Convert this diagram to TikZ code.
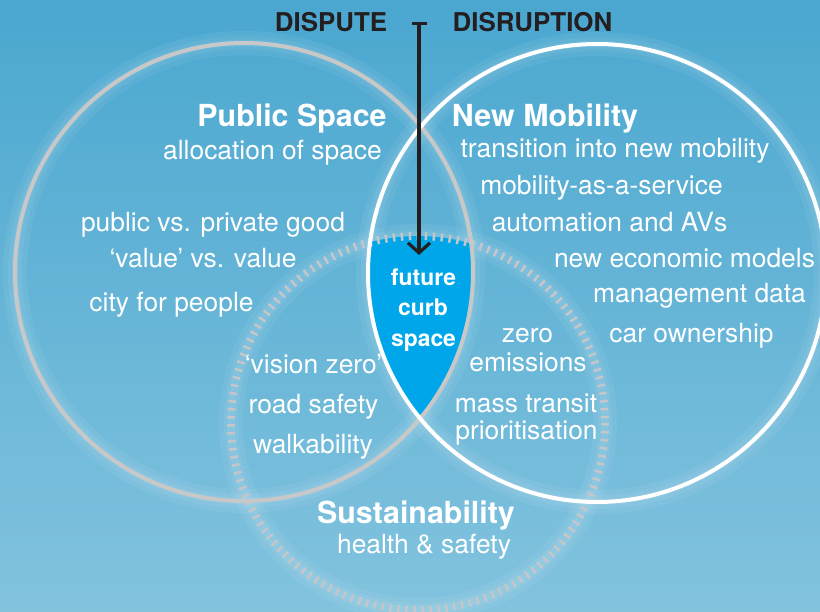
\documentclass[tikz,border=0pt]{standalone}
\usepackage{fontspec}
\setmainfont{TeX Gyre Heros}
\usetikzlibrary{arrows.meta}
\definecolor{skytop}{RGB}{74,167,208}
\definecolor{skybot}{RGB}{130,195,222}
\definecolor{curbblue}{RGB}{0,166,234}
\definecolor{ringgrey}{RGB}{200,200,200}
\definecolor{tickgrey}{RGB}{196,198,201}
\definecolor{darkink}{RGB}{35,31,32}
\tikzset{
  head/.style={anchor=base, text=white, font=\bfseries\fontsize{30.5}{33}\selectfont},
  item/.style={anchor=base, text=white, font=\fontsize{26.5}{30}\selectfont},
  toplabel/.style={anchor=base, text=darkink, font=\bfseries\fontsize{26}{30}\selectfont},
  curbtext/.style={anchor=base, text=white, font=\bfseries\fontsize{23}{26}\selectfont},
  halo/.style={white, opacity=0.06, line width=#1},
}
\begin{document}
\begin{tikzpicture}[x=1bp, y=-1bp]
      \shade [top color=skytop, bottom color=skybot] (0,0) rectangle (820,612);
      \useasboundingbox (0,0) rectangle (820,612);
      % circle centres
      \coordinate (ps) at (244,272);
      \coordinate (nm) at (597,273);
      \coordinate (su) at (418,423);
      % soft glow round the rings
      \foreach \w in {24bp,14bp,7bp} {
        \draw [halo=\w] (su) circle (187);
        \draw [halo=\w] (ps) circle (229);
        \draw [halo=\w] (nm) circle (229);
      }
      % the shared part
      \begin{scope}
        \clip (ps) circle (229);
        \clip (nm) circle (229);
        \fill [curbblue] (su) circle (187);
      \end{scope}
      \draw [tickgrey, line width=8bp, dash pattern=on 2.5bp off 5.5bp] (su) circle (187);
      \draw [ringgrey, line width=4bp] (ps) circle (229);
      \draw [white, line width=4bp] (nm) circle (229);
      % top labels and arrow
      \node [toplabel] (dis) at (331,32) {DISPUTE};
      \node [toplabel] (dsr) at (532.5,32) {DISRUPTION};
      \coordinate (bar) at (419,22);
      \coordinate (tip) at (419,255);
      \draw [darkink, line width=3.2bp, {Bar[width=15bp]}-{Straight Barb[length=10bp, width=22bp]}] (bar) -- (tip);
      % public space
      \node [head] (pshead) at (292,127) {Public Space};
      \node [item] (ps1) at (272.5,160) {allocation of space};
      \node [item] (ps2) at (213,232) {public vs. private good};
      \node [item] (ps3) at (203,267) {‘value’ vs. value};
      \node [item] (ps4) at (171.5,311) {city for people};
      % new mobility
      \node [head] (nmhead) at (545,127) {New Mobility};
      \node [item] (nm1) at (615,158) {transition into new mobility};
      \node [item] (nm2) at (601.5,195) {mobility-as-a-service};
      \node [item] (nm3) at (609.5,232) {automation and AVs};
      \node [item] (nm4) at (684.5,267) {new economic models};
      \node [item] (nm5) at (699.5,302) {management data};
      \node [item] (nm6) at (691.5,342) {car ownership};
      % overlaps
      \node [item] (ov1) at (313.5,373) {‘vision zero’};
      \node [item] (ov2) at (313.5,413) {road safety};
      \node [item] (ov3) at (313,453) {walkability};
      \node [item] (ov4) at (527.5,342) {zero};
      \node [item] (ov5) at (528,371) {emissions};
      \node [item] (ov6) at (526,412) {mass transit};
      \node [item] (ov7) at (526.5,439) {prioritisation};
      % sustainability
      \node [head] (suhead) at (416,523) {Sustainability};
      \node [item] (su1) at (424,553) {health \& safety};
      % centre
      \node [curbtext] (cb1) at (423.5,285) {future};
      \node [curbtext] (cb2) at (423,315) {curb};
      \node [curbtext] (cb3) at (423.5,346) {space};
    \end{tikzpicture}
\end{document}
